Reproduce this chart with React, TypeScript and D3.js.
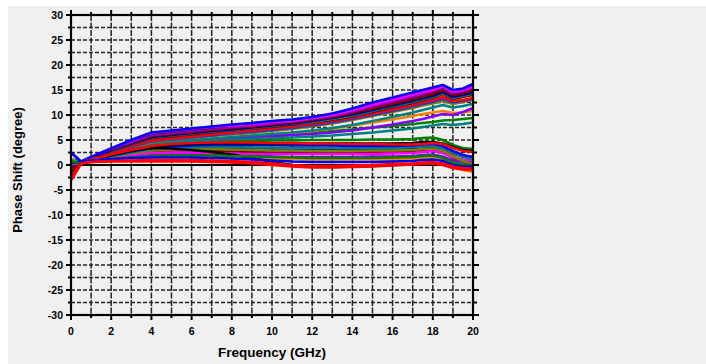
import React from 'react';
import * as d3 from 'd3';

const freqGHz = [0, 0.5, 1, 2, 3, 4, 5, 6, 7, 8, 9, 10, 11, 12, 13, 14, 15, 16, 17, 17.5, 18, 18.5, 19, 19.5, 20];
const xTickLabels = [0, 2, 4, 6, 8, 10, 12, 14, 16, 18, 20];
const yTickLabels = [-30, -25, -20, -15, -10, -5, 0, 5, 10, 15, 20, 25, 30];

// bottom group
const bRed1 = [-3.0, 0.3, 0.6, 0.7, 0.7, 0.7, 0.7, 0.7, 0.6, 0.5, 0.3, 0.0, -0.3, -0.5, -0.5, -0.4, -0.3, -0.1, 0.1, 0.2, 0.3, 0.0, -0.6, -0.9, -1.0];
const bBlue = [2.5, 0.6, 0.9, 1.2, 1.4, 1.5, 1.5, 1.5, 1.4, 1.3, 1.1, 0.9, 0.7, 0.6, 0.6, 0.6, 0.6, 0.7, 0.8, 1.0, 1.1, 0.8, 0.0, -0.3, -0.3];
const bRed2 = [-2.5, 0.3, 0.6, 0.8, 0.9, 1.0, 1.0, 1.0, 0.9, 0.8, 0.6, 0.3, 0.0, -0.2, -0.2, -0.1, 0.0, 0.2, 0.3, 0.5, 0.6, 0.3, -0.3, -0.6, -0.7];
const bGreen = [0.7, 0.4, 0.8, 1.2, 1.5, 1.8, 1.9, 1.9, 1.9, 1.8, 1.7, 1.6, 1.5, 1.4, 1.4, 1.4, 1.4, 1.5, 1.6, 1.8, 1.9, 1.4, 0.5, 0.1, 0.0];

// middle group
const mRedTop = [-3.0, 0.4, 1.1, 2.1, 3.0, 3.8, 4.2, 4.4, 4.5, 4.5, 4.5, 4.4, 4.4, 4.3, 4.3, 4.2, 4.2, 4.1, 4.1, 4.2, 4.4, 4.2, 3.4, 2.8, 2.6];
const mBlackTop = [-2.5, 0.4, 1.0, 2.0, 2.9, 3.7, 4.0, 4.2, 4.3, 4.3, 4.3, 4.3, 4.3, 4.3, 4.3, 4.3, 4.3, 4.3, 4.4, 4.6, 4.6, 4.3, 3.6, 3.0, 2.8];
const mBlue = [0.5, 0.5, 1.0, 1.9, 2.7, 3.4, 3.7, 3.9, 4.0, 4.0, 4.0, 4.0, 3.9, 3.9, 3.9, 3.8, 3.8, 3.8, 3.9, 4.1, 4.2, 3.8, 2.8, 2.0, 1.6];
const mTeal = [0.3, 0.5, 0.9, 1.8, 2.5, 3.2, 3.5, 3.6, 3.6, 3.6, 3.5, 3.5, 3.4, 3.4, 3.4, 3.4, 3.4, 3.4, 3.5, 3.7, 3.8, 3.4, 2.5, 1.6, 1.2];
const mOlive = [0.9, 0.5, 0.9, 1.6, 2.3, 2.9, 3.1, 3.2, 3.2, 3.1, 3.0, 2.9, 2.9, 2.8, 2.8, 2.8, 2.9, 2.9, 3.0, 3.2, 3.3, 2.9, 1.8, 0.8, 0.2];
const mMagenta = [0.2, 0.4, 0.8, 1.5, 2.0, 2.4, 2.5, 2.5, 2.4, 2.3, 2.2, 2.2, 2.2, 2.2, 2.2, 2.2, 2.2, 2.3, 2.4, 2.6, 2.8, 2.4, 1.6, 1.1, 1.0];
const mBlackArch = [-2.8, 0.3, 1.0, 2.0, 2.8, 3.4, 3.3, 3.0, 2.6, 2.1, 1.4, 0.6, 0.0, -0.3, -0.4, -0.3, -0.2, 0.0, 0.1, 0.3, 0.4, 0.1, -0.4, -0.6, -0.6];
const mOrange = [1.0, 0.4, 0.7, 1.1, 1.4, 1.6, 1.7, 1.7, 1.6, 1.5, 1.4, 1.3, 1.2, 1.1, 1.1, 1.1, 1.1, 1.1, 1.2, 1.4, 1.5, 1.0, -0.2, -1.0, -1.4];
const mPurple = [0.6, 0.4, 0.8, 1.3, 1.7, 2.0, 2.1, 2.1, 2.0, 1.9, 1.8, 1.7, 1.6, 1.6, 1.6, 1.6, 1.7, 1.7, 1.8, 2.0, 2.1, 1.7, 0.9, 0.6, 0.7];
const mNavy = [0.4, 0.5, 0.9, 1.7, 2.4, 3.0, 3.3, 3.4, 3.3, 3.2, 3.1, 3.1, 3.1, 3.1, 3.1, 3.1, 3.1, 3.2, 3.3, 3.5, 3.6, 3.2, 2.3, 1.7, 1.6];
const mWine = [0.1, 0.4, 0.9, 1.6, 2.2, 2.7, 2.9, 2.9, 2.8, 2.7, 2.6, 2.5, 2.5, 2.5, 2.5, 2.5, 2.5, 2.6, 2.7, 2.9, 3.0, 2.6, 1.5, 0.6, 0.0];
const mGreen = [0.8, 0.5, 1.0, 2.0, 2.9, 3.6, 4.0, 4.3, 4.5, 4.7, 4.8, 4.9, 4.9, 5.0, 5.0, 5.0, 5.1, 5.1, 5.2, 5.4, 5.5, 5.0, 4.0, 3.4, 3.2];
const mCyan = [0.4, 0.5, 1.0, 2.1, 3.0, 3.9, 4.3, 4.6, 4.8, 5.0, 5.2, 5.3, 5.5, 5.7, 5.9, 6.2, 6.5, 6.9, 7.3, 7.6, 7.9, 8.2, 8.0, 8.2, 8.5];

// upper group
const uGreen = [0.8, 0.4, 0.9, 1.8, 2.6, 3.4, 3.9, 4.3, 4.7, 5.0, 5.3, 5.7, 6.0, 6.4, 6.8, 7.1, 7.5, 7.8, 8.2, 8.4, 8.6, 8.9, 9.0, 9.2, 9.4];
const uOrange = [1.0, 0.5, 1.0, 2.0, 2.9, 3.8, 4.1, 4.4, 4.7, 5.0, 5.4, 5.8, 6.3, 6.8, 7.3, 7.9, 8.5, 9.1, 9.8, 10.2, 10.5, 10.8, 10.4, 10.5, 10.8];
const uPurple = [0.5, 0.4, 1.0, 2.1, 3.1, 4.0, 4.4, 4.8, 5.1, 5.4, 5.6, 5.8, 6.0, 6.2, 6.5, 6.9, 7.5, 8.1, 8.8, 9.2, 9.7, 10.2, 10.0, 10.6, 11.4];
const uTeal = [0.6, 0.5, 1.1, 2.2, 3.2, 4.2, 4.6, 5.0, 5.3, 5.6, 5.9, 6.2, 6.5, 6.9, 7.4, 8.0, 8.8, 9.6, 10.5, 11.0, 11.5, 12.0, 11.5, 11.8, 12.2];
const uOlive = [1.2, 0.6, 1.2, 2.4, 3.5, 4.5, 5.0, 5.4, 5.8, 6.1, 6.4, 6.8, 7.2, 7.7, 8.3, 9.0, 9.8, 10.6, 11.4, 11.9, 12.3, 12.8, 12.2, 12.6, 13.0];
const uRoyal = [0.9, 0.5, 1.2, 2.5, 3.6, 4.7, 5.1, 5.5, 5.9, 6.3, 6.6, 7.0, 7.4, 7.9, 8.5, 9.2, 10.0, 10.8, 11.7, 12.2, 12.6, 13.2, 12.5, 12.8, 13.2];
const uRed = [-1.0, 0.5, 1.3, 2.6, 3.8, 4.9, 5.3, 5.7, 6.1, 6.5, 6.9, 7.3, 7.7, 8.2, 8.8, 9.5, 10.3, 11.1, 12.0, 12.5, 13.0, 13.6, 12.8, 13.0, 13.4];
const uWine1 = [0.2, 0.6, 1.4, 2.8, 4.1, 5.3, 5.7, 6.1, 6.5, 6.9, 7.3, 7.6, 8.0, 8.5, 9.0, 9.7, 10.6, 11.5, 12.4, 12.9, 13.4, 14.2, 13.2, 13.6, 14.0];
const uDarkCyan = [0.7, 0.6, 1.4, 2.8, 4.2, 5.5, 5.9, 6.3, 6.7, 7.0, 7.4, 7.8, 8.2, 8.6, 9.2, 9.9, 10.8, 11.7, 12.6, 13.1, 13.6, 14.4, 13.4, 13.8, 14.3];
const uNavy = [0.4, 0.6, 1.4, 2.9, 4.3, 5.6, 6.0, 6.4, 6.8, 7.1, 7.5, 7.9, 8.3, 8.8, 9.4, 10.1, 11.0, 11.9, 12.8, 13.3, 13.8, 14.6, 13.6, 14.0, 14.5];
const uWine2 = [-0.5, 0.5, 1.5, 3.0, 4.5, 5.8, 6.2, 6.6, 7.0, 7.4, 7.7, 8.1, 8.5, 9.0, 9.6, 10.4, 11.3, 12.2, 13.2, 13.7, 14.2, 15.0, 14.0, 14.4, 15.0];
const uWine3 = [-1.5, 0.5, 1.5, 3.1, 4.6, 5.9, 6.3, 6.7, 7.1, 7.5, 7.8, 8.2, 8.6, 9.1, 9.7, 10.6, 11.5, 12.5, 13.5, 14.0, 14.5, 15.2, 14.2, 14.6, 15.2];
const uViolet = [0.0, 0.5, 1.5, 3.1, 4.6, 6.0, 6.4, 6.8, 7.2, 7.6, 7.9, 8.3, 8.7, 9.2, 9.8, 10.7, 11.7, 12.7, 13.7, 14.2, 14.8, 15.4, 14.4, 14.8, 15.4];
const uBlack = [-2.8, 0.4, 1.5, 3.2, 4.9, 6.3, 6.7, 7.1, 7.5, 7.9, 8.3, 8.7, 9.0, 9.5, 10.1, 11.1, 12.2, 13.2, 14.2, 14.8, 15.3, 15.6, 14.8, 15.1, 15.8];
const uMagenta = [0.3, 0.6, 1.6, 3.3, 4.9, 6.4, 6.8, 7.2, 7.6, 7.9, 8.2, 8.6, 8.9, 9.4, 10.0, 11.0, 12.1, 13.1, 14.1, 14.6, 15.1, 15.7, 14.7, 15.0, 15.7];
const uBlue = [2.5, 0.7, 1.6, 3.3, 5.0, 6.5, 6.9, 7.3, 7.7, 8.1, 8.4, 8.8, 9.1, 9.6, 10.3, 11.3, 12.5, 13.5, 14.5, 15.0, 15.5, 16.0, 15.0, 15.3, 16.2];

const series = [
  { values: uGreen, color: '#008000' },
  { values: uOrange, color: '#ff8000' },
  { values: uPurple, color: '#8000ff' },
  { values: uTeal, color: '#008080' },
  { values: uOlive, color: '#808000' },
  { values: uRoyal, color: '#3333cc' },
  { values: uRed, color: '#ff0000' },
  { values: uWine1, color: '#800000' },
  { values: uDarkCyan, color: '#008080' },
  { values: uNavy, color: '#000080' },
  { values: uWine2, color: '#800000' },
  { values: uWine3, color: '#800000' },
  { values: uViolet, color: '#9900cc' },
  { values: uBlack, color: '#000000' },
  { values: uMagenta, color: '#ff00ff' },
  { values: uBlue, color: '#0000ff' },
  { values: mCyan, color: '#008080' },
  { values: mGreen, color: '#008000' },
  { values: mWine, color: '#800000' },
  { values: mNavy, color: '#000080' },
  { values: mPurple, color: '#8000ff' },
  { values: mOrange, color: '#ff8000' },
  { values: mMagenta, color: '#ff00ff' },
  { values: mOlive, color: '#808000' },
  { values: mTeal, color: '#008080' },
  { values: mBlue, color: '#0000ff' },
  { values: mBlackArch, color: '#000000' },
  { values: mBlackTop, color: '#000000' },
  { values: mRedTop, color: '#ff0000' },
  { values: bGreen, color: '#008000' },
  { values: bBlue, color: '#0000ff' },
  { values: bRed2, color: '#ff0000' },
  { values: bRed1, color: '#ff0000' },
];

export default function App() {
  const W = 706, H = 364;
  const x = d3.scaleLinear().domain([0, 20]).range([71, 473]);
  const y = d3.scaleLinear().domain([-30, 30]).range([315, 15]);
  const line = d3.line<number>().x((_, i) => x(freqGHz[i])).y((d) => y(d));
  const xMinor = d3.range(0, 21, 1);
  const yMinor = d3.range(-30, 30.01, 2.5);
  const font = 'Liberation Sans, Arial, sans-serif';
  const [x0, x1] = x.range();
  const [y0, y1] = y.range();

  return (
    <svg width={W} height={H} style={{ position: 'absolute', left: 0, top: 0 }}>
      <rect x={0} y={0} width={W} height={H} fill="#ffffff" />
      <rect x={8} y={6} width={W - 8} height={H - 6} fill="#f0f0f0" />
      <defs>
        <clipPath id="plot">
          <rect x={x0} y={y1} width={x1 - x0} height={y0 - y1} />
        </clipPath>
      </defs>
      {/* grid */}
      <g stroke="#000" strokeWidth={1.5} opacity={0.85}>
        {xMinor.map((v) => (
          <line key={'gx' + v} x1={x(v)} x2={x(v)} y1={y1} y2={y0} strokeDasharray="6 1.5" />
        ))}
        {yMinor.map((v) => (
          <line key={'gy' + v} x1={x0} x2={x1} y1={y(v)} y2={y(v)} strokeDasharray="4 2" />
        ))}
      </g>
      <line x1={x0} x2={x1} y1={y(0)} y2={y(0)} stroke="#000" strokeWidth={2} />
      {/* data */}
      <g clipPath="url(#plot)" fill="none" strokeWidth={2.6} strokeLinejoin="round">
        {series.map((s, i) => (
          <path key={i} d={line(s.values) || ''} stroke={s.color} />
        ))}
      </g>
      {/* frame */}
      <rect x={x0} y={y1} width={x1 - x0} height={y0 - y1} fill="none" stroke="#000" strokeWidth={2.2} />
      {/* ticks */}
      <g stroke="#000" strokeWidth={2}>
        {xMinor.map((v) => {
          const major = v % 2 === 0;
          const len = major ? 5 : 3;
          return (
            <g key={'tx' + v}>
              <line x1={x(v)} x2={x(v)} y1={y0} y2={y0 + len} />
              <line x1={x(v)} x2={x(v)} y1={y1} y2={y1 - len} />
            </g>
          );
        })}
        {yMinor.map((v) => {
          const major = v % 5 === 0;
          const len = major ? 5 : 3;
          return (
            <g key={'ty' + v}>
              <line x1={x0} x2={x0 - len} y1={y(v)} y2={y(v)} />
              <line x1={x1} x2={x1 + len + 1} y1={y(v)} y2={y(v)} />
            </g>
          );
        })}
      </g>
      {/* labels */}
      <g fontFamily={font} fontWeight="bold" fontSize={10.5} fill="#000">
        {xTickLabels.map((v) => (
          <text key={'lx' + v} x={x(v)} y={y0 + 20} textAnchor="middle">{v}</text>
        ))}
        {yTickLabels.map((v) => (
          <text key={'ly' + v} x={x0 - 8} y={y(v) + 3.8} textAnchor="end">{v}</text>
        ))}
      </g>
      <text x={272} y={357} textAnchor="middle" fontFamily={font} fontWeight="bold" fontSize={13.5}>
        Frequency (GHz)
      </text>
      <text
        transform={`translate(22,170) rotate(-90)`}
        textAnchor="middle"
        fontFamily={font}
        fontWeight="bold"
        fontSize={13}
      >
        Phase Shift (degree)
      </text>
    </svg>
  );
}
